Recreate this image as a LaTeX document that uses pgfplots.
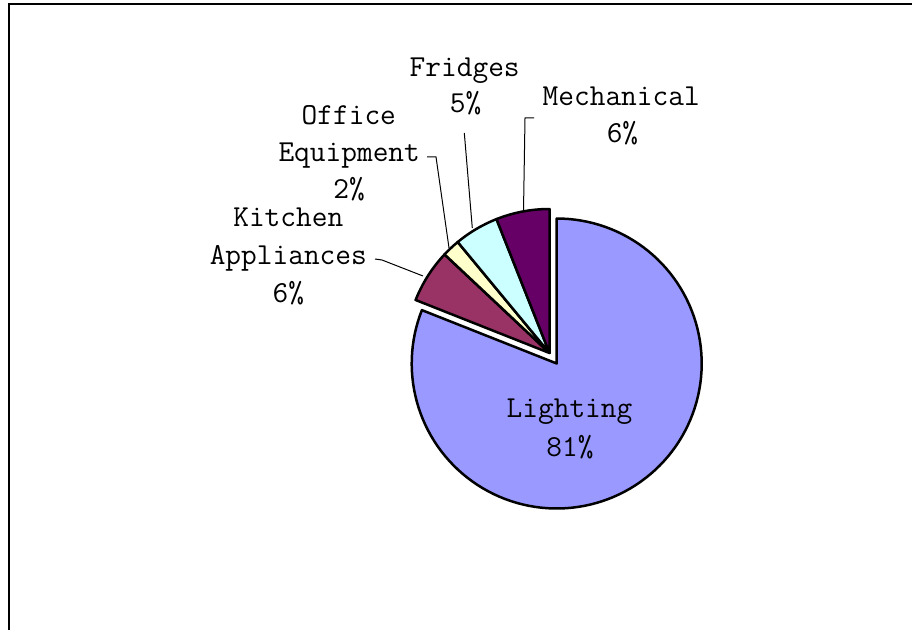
\documentclass[border=0pt]{standalone}
\usepackage{pgfplots}
\pgfplotsset{compat=1.18}
\definecolor{cLight}{HTML}{9999FF}
\definecolor{cKitch}{HTML}{993366}
\definecolor{cOffice}{HTML}{FFFFCC}
\definecolor{cFridge}{HTML}{CCFFFF}
\definecolor{cMech}{HTML}{660066}
% shares in percent
\def\pLight{81}
\def\pKitch{6}
\def\pOffice{2}
\def\pFridge{5}
\def\pMech{6}
\begin{document}
\begin{tikzpicture}
\useasboundingbox (0,0) rectangle (912pt,630pt);
\pgfmathsetmacro{\aA}{90}
\pgfmathsetmacro{\aB}{\aA-3.6*\pLight}
\pgfmathsetmacro{\aC}{\aB-3.6*\pKitch}
\pgfmathsetmacro{\aD}{\aC-3.6*\pOffice}
\pgfmathsetmacro{\aE}{\aD-3.6*\pFridge}
\pgfmathsetmacro{\aF}{\aE-3.6*\pMech}
\begin{axis}[at={(0,0)}, anchor=south west, width=912pt, height=630pt,
  scale only axis, hide axis, clip=false,
  xmin=0, xmax=912, ymin=0, ymax=630]
% frame
\draw[line width=2pt, black] (8.5,0) -- (8.5,625.5) -- (912,625.5);
% Lighting slice
\addplot[fill=cLight, draw=black, line width=2.5pt, line join=round, domain=\aB:\aA, samples=120, variable=\t]
  ({556.7+145*cos(\t)}, {266.5+145*sin(\t)}) -- (556.7,266.5) -- cycle;
% other slices (exploded)
\addplot[fill=cKitch, draw=black, line width=2.5pt, line join=round, domain=\aC:\aB, samples=20, variable=\t]
  ({549.5+144*cos(\t)}, {277+144*sin(\t)}) -- (549.5,277) -- cycle;
\addplot[fill=cOffice, draw=black, line width=2.5pt, line join=round, domain=\aD:\aC, samples=10, variable=\t]
  ({549.5+144*cos(\t)}, {277+144*sin(\t)}) -- (549.5,277) -- cycle;
\addplot[fill=cFridge, draw=black, line width=2.5pt, line join=round, domain=\aE:\aD, samples=20, variable=\t]
  ({549.5+144*cos(\t)}, {277+144*sin(\t)}) -- (549.5,277) -- cycle;
\addplot[fill=cMech, draw=black, line width=2.5pt, line join=round, domain=\aF:\aE, samples=20, variable=\t]
  ({549.5+144*cos(\t)}, {277+144*sin(\t)}) -- (549.5,277) -- cycle;
% leader lines
\draw[line width=1pt] (375,371) -- (382,370) -- (423,354);
\draw[line width=1pt] (427,473) -- (436,473) -- (449,382);
\draw[line width=1pt] (464.3,497) -- (472.3,402);
\draw[line width=1pt] (534,512) -- (525,512) -- (523.5,419);
% labels
\tikzset{lab/.style={anchor=base, inner sep=0pt, font=\fontsize{30.5}{37}\selectfont\ttfamily}}
\node[lab] at (464.7,553.3) {Fridges};
\node[lab] at (465.7,517) {5\%};
\node[lab] at (621.2,524) {Mechanical};
\node[lab] at (622.5,487) {6\%};
\node[lab] at (348.8,505.7) {Office};
\node[lab] at (349.2,468.3) {Equipment};
\node[lab] at (349,431.7) {2\%};
\node[lab] at (288.3,403.3) {Kitchen};
\node[lab] at (288.3,365) {Appliances};
\node[lab] at (288.3,327) {6\%};
\node[lab] at (569.5,212.7) {Lighting};
\node[lab] at (570,174) {81\%};
\end{axis}
\end{tikzpicture}
\end{document}
